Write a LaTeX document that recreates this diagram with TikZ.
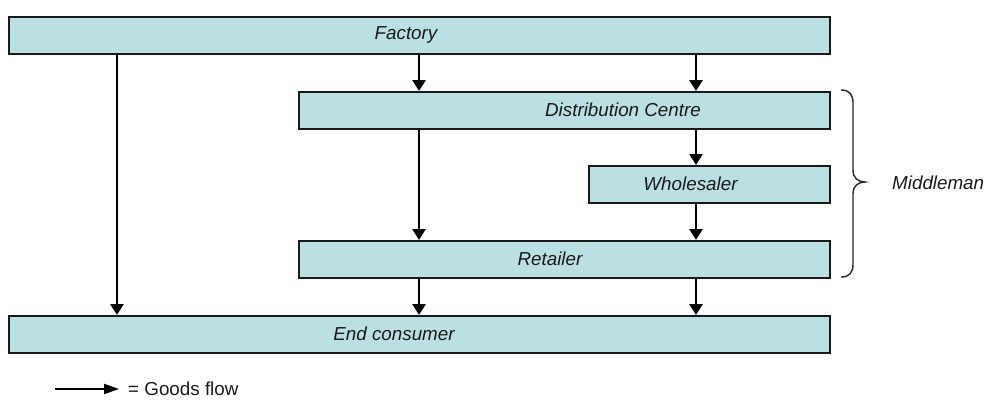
\documentclass[tikz,border=0pt]{standalone}
\usepackage{fontspec}
\setmainfont{Liberation Sans}
\usetikzlibrary{arrows.meta}
\definecolor{boxfill}{RGB}{187,224,227}
\definecolor{boxline}{RGB}{25,25,25}
\begin{document}
\begin{tikzpicture}[x=1pt,y=-1pt,
  box/.style={draw=boxline, line width=1.7pt, fill=boxfill, rectangle, inner sep=0pt, anchor=north west, minimum height=37pt},
  lab/.style={font=\fontsize{18.8}{22}\selectfont\itshape, inner sep=0pt, text=black!90},
  arr/.style={line width=2.8pt, -{Triangle[length=11pt,width=13pt]}},
  brc/.style={line width=1.4pt, draw=black!85}]
\useasboundingbox (0,0) rectangle (987,399);
% boxes
\node[box, minimum width=821pt] (fac) at (8,16) {};
\node[box, minimum width=531pt] (dc) at (298,91) {};
\node[box, minimum width=241pt] (wh) at (588,165) {};
\node[box, minimum width=531pt] (ret) at (298,240) {};
\node[box, minimum width=821pt] (ec) at (8,315) {};
% labels
\node[lab] (tfac) at (406,34.5) {Factory};
\node[lab] (tdc) at (623,109.5) {Distribution Centre};
\node[lab] (twh) at (690.5,183.5) {Wholesaler};
\node[lab] (tret) at (550,258.5) {Retailer};
\node[lab] (tec) at (394,333.5) {End consumer};
\node[lab, anchor=west] (tmid) at (892,183) {Middleman};
% connector columns
\coordinate (c1) at (117,0);
\coordinate (c2) at (419,0);
\coordinate (c3) at (696,0);
\draw[arr] (c1 |- fac.south) -- (c1 |- ec.north);
\draw[arr] (c2 |- fac.south) -- (c2 |- dc.north);
\draw[arr] (c3 |- fac.south) -- (c3 |- dc.north);
\draw[arr] (c2 |- dc.south) -- (c2 |- ret.north);
\draw[arr] (c3 |- dc.south) -- (c3 |- wh.north);
\draw[arr] (c3 |- wh.south) -- (c3 |- ret.north);
\draw[arr] (c2 |- ret.south) -- (c2 |- ec.north);
\draw[arr] (c3 |- ret.south) -- (c3 |- ec.north);
% brace
\draw[brc] (841,90) .. controls (849,90) and (853,94) .. (853,103) -- (853,170)
  .. controls (853,178) and (858,182) .. (865,182)
  .. controls (858,182) and (853,186) .. (853,194) -- (853,264)
  .. controls (853,273) and (849,277) .. (841,277);
% legend
\coordinate (la) at (55,389);
\coordinate (lb) at (119,389);
\draw[line width=2pt, -{Triangle[length=15pt,width=10pt]}] (la) -- (lb);
\node[font=\fontsize{18.8}{22}\selectfont, inner sep=0pt, anchor=west, text=black!90] (leg) at (128,389) {= Goods flow};
\end{tikzpicture}
\end{document}
